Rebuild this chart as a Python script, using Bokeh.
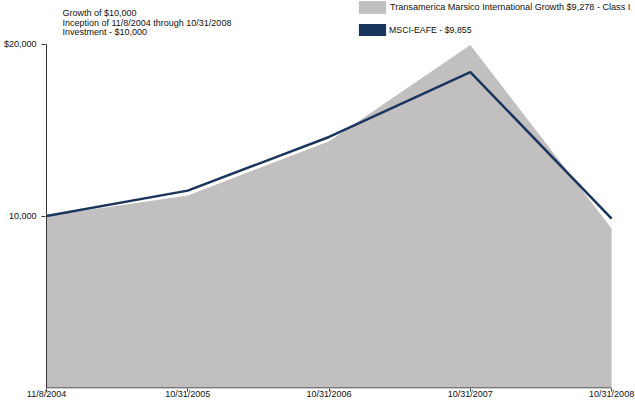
from bokeh.plotting import figure
from bokeh.models import (ColumnDataSource, FixedTicker, Label, Legend, LegendItem, Range1d)
from bokeh.embed import file_html
from bokeh.resources import INLINE

dates = ["11/8/2004", "10/31/2005", "10/31/2006", "10/31/2007", "10/31/2008"]
fund = [10000, 11200, 14350, 19950, 9278]
index = [10000, 11480, 14600, 18370, 9855]
fund_label = "Transamerica Marsico International Growth $9,278 - Class I"
index_label = "MSCI-EAFE - $9,855"
title_lines = ["Growth of $10,000", "Inception of 11/8/2004 through 10/31/2008", "Investment - $10,000"]
y_ticks = [10000, 20000]
y_tick_labels = {10000: "10,000", 20000: "$20,000"}

GRAY = "#c1bfc0"
NAVY = "#1b365d"
FONT = "Liberation Sans"
AXIS = "#333333"

n = len(dates)
xs = list(range(n))
xpp = (n - 1) / 568.0          # data units per pixel, x
ypp = y_ticks[-1] / 343.0      # data units per pixel, y

src = ColumnDataSource(dict(x=xs, fund=fund, index=index, zero=[0] * n))

p = figure(width=635, height=401, output_backend="svg", toolbar_location=None,
           x_range=Range1d(-xpp, (n - 1) + 24 * xpp), y_range=Range1d(-0.5 * ypp, 386.5 * ypp),
           min_border_left=42, min_border_right=0, min_border_top=0, min_border_bottom=0)
p.outline_line_color = None
p.xgrid.visible = False
p.ygrid.visible = False
p.background_fill_color = "white"
p.border_fill_color = "white"

area = p.varea(x="x", y1="zero", y2="fund", source=src, fill_color=GRAY)
line = p.line(x="x", y="index", source=src, line_color=NAVY, line_width=2.5)
# zero-height area: only used for the legend's navy box
swatch = p.varea(x="x", y1="index", y2="index", source=src, fill_color=NAVY)
# axis lines stop at the last ticks
p.segment(x0=[0], y0=[0], x1=[0], y1=[y_ticks[-1]], line_color=AXIS, line_width=1)
p.segment(x0=[0], y0=[0], x1=[n - 1], y1=[0], line_color=AXIS, line_width=1)

for ax in (p.xaxis[0], p.yaxis[0]):
    ax.axis_line_color = None
    ax.major_tick_line_color = AXIS
    ax.major_tick_in = 0
    ax.minor_tick_line_color = None
    ax.major_label_text_font = FONT
    ax.major_label_text_font_size = "9px"
    ax.major_label_text_color = "#111111"

p.xaxis.ticker = FixedTicker(ticks=xs)
p.xaxis.major_label_overrides = {i: d for i, d in enumerate(dates)}
p.xaxis.major_tick_out = 3
p.xaxis.major_label_standoff = -3
p.yaxis.ticker = FixedTicker(ticks=y_ticks)
p.yaxis.major_label_overrides = y_tick_labels
p.yaxis.major_tick_out = 4
p.yaxis.major_label_standoff = 5

for i, t in enumerate(title_lines):
    p.add_layout(Label(x=(59 - 43) * xpp, y=(386.5 - (7.5 + i * 9.7)) * ypp, text=t,
                       text_font=FONT, text_font_size="9px", text_baseline="top",
                       text_color="#111111"))

leg1 = Legend(items=[LegendItem(label=fund_label, renderers=[area])],
              location=(310, 373), padding=0, margin=0, spacing=0,
              glyph_width=34, glyph_height=16, label_height=16, label_standoff=1,
              label_text_font=FONT, label_text_font_size="9.1px", label_text_color="#111111",
              border_line_color=None, background_fill_alpha=0)
leg2 = Legend(items=[LegendItem(label=index_label, renderers=[swatch])],
              location=(310, 351), padding=0, margin=0, spacing=0,
              glyph_width=34, glyph_height=15, label_height=15, label_standoff=-2,
              label_text_font=FONT, label_text_font_size="8.8px", label_text_color="#111111",
              border_line_color=None, background_fill_alpha=0)
p.add_layout(leg1, "center")
p.add_layout(leg2, "center")

open("out.html", "w").write(file_html(p, INLINE))
